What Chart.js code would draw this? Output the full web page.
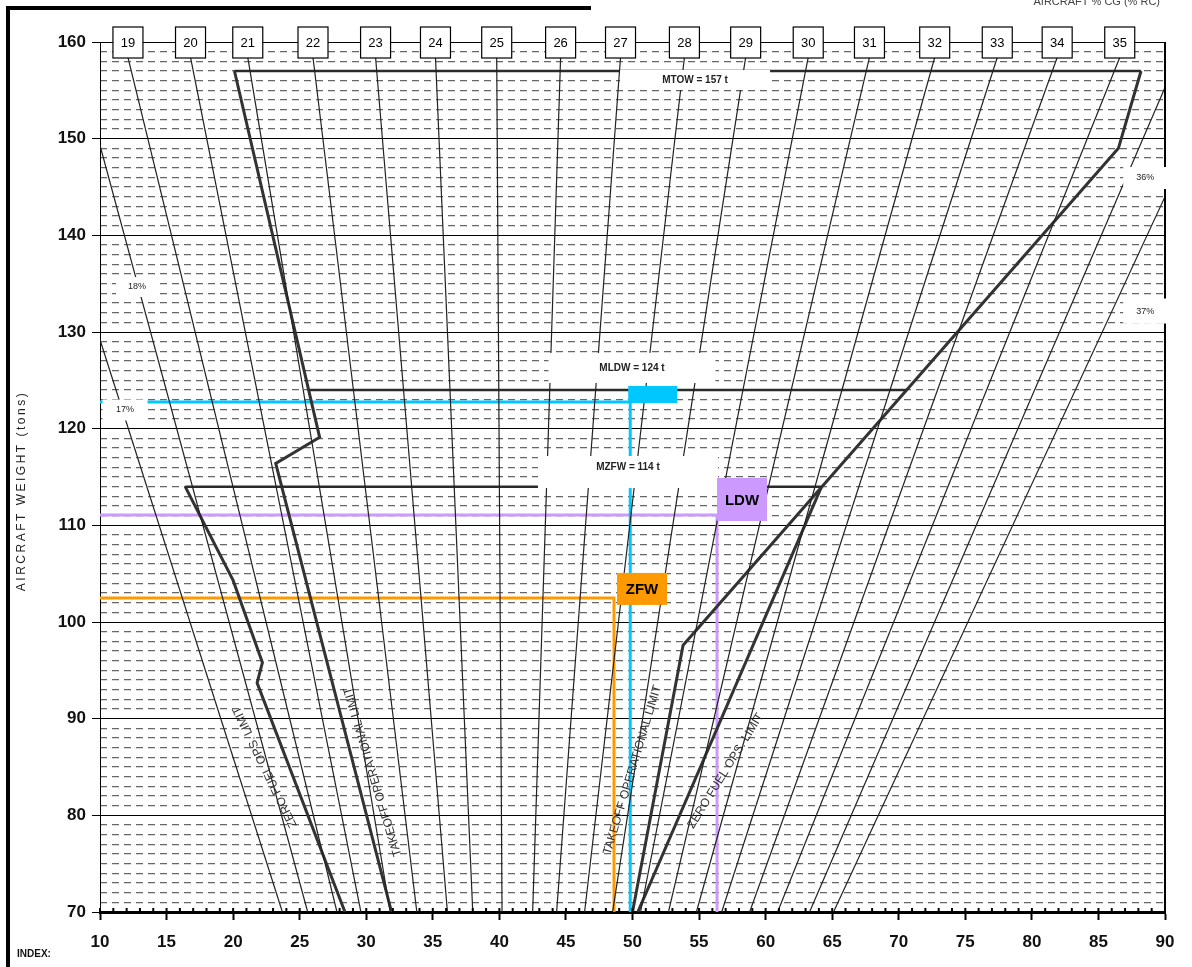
<!DOCTYPE html>
<html>
<head>
<meta charset="utf-8">
<title>Weight and balance envelope</title>
<script src="https://cdn.jsdelivr.net/npm/chart.js@4.4.0/dist/chart.umd.min.js"></script>
<style>
  html, body { margin: 0; padding: 0; background: #fff; }
  #wrap { width: 1192px; height: 967px; position: relative; }
</style>
</head>
<body>
<div id="wrap"><canvas id="cgChart"></canvas></div>
<script>
// axis ranges and tick labels
const indexTicks = [10, 15, 20, 25, 30, 35, 40, 45, 50, 55, 60, 65, 70, 75, 80, 85, 90];
const weightTicks = [70, 80, 90, 100, 110, 120, 130, 140, 150, 160];

// %CG lines: start point (index, weight) and index where they reach 70 t
const cgPercent   = [17, 18, 19, 20, 21, 22, 23, 24, 25, 26, 27, 28, 29, 30, 31, 32, 33, 34, 35, 36, 37];
const cgTopIndex  = [10, 10, 12.1, 16.8, 21.1, 26.0, 30.7, 35.2, 39.8, 44.6, 49.1, 53.9, 58.5, 63.2, 67.8, 72.7, 77.4, 81.9, 86.6, 90, 90];
const cgTopWeight = [129.2, 149.3, 158.4, 158.4, 158.4, 158.4, 158.4, 158.4, 158.4, 158.4, 158.4, 158.4, 158.4, 158.4, 158.4, 158.4, 158.4, 158.4, 158.4, 155.3, 144.0];
const cgBaseIndex = [23.7, 25.6, 27.8, 29.6, 31.8, 33.8, 36.1, 38.0, 40.2, 42.5, 44.3, 46.4, 48.5, 50.6, 52.7, 54.8, 56.7, 58.8, 60.9, 63.3, 65.1];

// envelope limits as [index, weight]
const mtowLimit = [[20.1, 157], [88.2, 157]];
const mldwLimit = [[25.7, 124], [70.6, 124]];
const mzfwLimit = [[16.4, 114], [64.2, 114]];
const takeoffFwd = [[20.1, 157], [26.5, 119.1], [23.2, 116.4], [31.9, 70]];
const takeoffAft = [[88.2, 157], [86.5, 149], [53.8, 97.6], [50.0, 70]];
const zeroFuelFwd = [[16.4, 114], [20.0, 104.3], [22.2, 95.8], [21.8, 93.7], [28.4, 70]];
const zeroFuelAft = [[64.2, 114], [50.4, 70]];

// loaded conditions: cyan check, ZFW, LDW
const pointNames = ["check", "ZFW", "LDW"];
const pointIndex = [49.83, 48.61, 56.35];
const pointWeight = [122.76, 102.49, 111.07];

const FONT = '"Liberation Sans", Arial, sans-serif';
const pointStyle = {
    check: { color: "#00c8ff", box: [-2, 47, -16, 1], text: "" },
    ZFW: { color: "#ff9900", box: [3, 53, -25, 7], text: "ZFW" },
    LDW: { color: "#cc99ff", box: [0, 50, -37, 6], text: "LDW" }
};

// labels with a white backing box (anchor in index/weight, box size in px)
const boxedLabels = [
    { text: "MTOW = 157 t", x: 54.7, y: 156.07, w: 150, h: 20, dy: 0, font: "bold 10px " + FONT },
    { text: "MLDW = 124 t", x: 49.96, y: 126.28, w: 167, h: 30, dy: 0, font: "bold 10px " + FONT },
    { text: "MZFW = 114 t", x: 49.66, y: 116.03, w: 180, h: 32, dy: 5, font: "bold 10px " + FONT },
    { text: "17%", x: 11.88, y: 121.93, w: 45, h: 21, dy: 0, font: "9px " + FONT },
    { text: "18%", x: 12.78, y: 134.66, w: 42, h: 20, dy: 0, font: "9px " + FONT },
    { text: "36%", x: 88.51, y: 145.93, w: 44, h: 22, dy: 0, font: "9px " + FONT },
    { text: "37%", x: 88.51, y: 132.17, w: 44, h: 25, dy: 0, font: "9px " + FONT }
];

// limit names written along the lines
const lineLabels = [
    { text: "ZERO FUEL OPS. LIMIT", x: 22.4, y: 85.0, angle: -115.8 },
    { text: "TAKEOFF OPERATIONAL LIMIT", x: 30.5, y: 84.5, angle: -106.7 },
    { text: "TAKEOFF OPERATIONAL LIMIT", x: 50.0, y: 84.7, angle: -73.3 },
    { text: "ZERO FUEL OPS. LIMIT", x: 57.0, y: 84.6, angle: -58.1 }
];

function pts(list) {
    return list.map(p => ({ x: p[0], y: p[1] }));
}

let datasets = [];

cgPercent.forEach((pc, i) => {
    datasets.push({
        label: pc + "%",
        data: [{ x: cgTopIndex[i], y: cgTopWeight[i] }, { x: cgBaseIndex[i], y: 70 }],
        borderColor: "#222",
        borderWidth: 1.2
    });
});

[mtowLimit, mldwLimit, mzfwLimit].forEach(l => {
    datasets.push({ data: pts(l), borderColor: "#2b2b2b", borderWidth: 2.5 });
});
[takeoffFwd, takeoffAft, zeroFuelFwd, zeroFuelAft].forEach(l => {
    datasets.push({ data: pts(l), borderColor: "#333", borderWidth: 3 });
});

pointNames.forEach((name, i) => {
    datasets.push({
        label: name,
        data: [
            { x: indexTicks[0], y: pointWeight[i] },
            { x: pointIndex[i], y: pointWeight[i] },
            { x: pointIndex[i], y: weightTicks[0] }
        ],
        borderColor: pointStyle[name].color,
        borderWidth: 3
    });
});

datasets.forEach(d => {
    d.showLine = true;
    d.pointRadius = 0;
    d.fill = false;
    d.xAxisID = "x";
    d.yAxisID = "y";
});

const decor = {
    id: "decor",
    afterDatasetsDraw(chart) {
        const ctx = chart.ctx;
        const a = chart.chartArea;
        const xs = chart.scales.x, ys = chart.scales.y;
        const px = v => xs.getPixelForValue(v);
        const py = v => ys.getPixelForValue(v);
        ctx.save();

        // right frame
        ctx.fillStyle = "#000";
        ctx.fillRect(a.right - 1, a.top, 2, a.bottom - a.top);

        // minor index ticks
        for (let v = xs.min; v <= xs.max; v++) {
            ctx.fillRect(px(v) - 1, a.bottom - 4, 2, 4);
        }

        // white label boxes
        boxedLabels.forEach(l => {
            const cx = px(l.x), cy = py(l.y);
            ctx.fillStyle = "#fff";
            ctx.fillRect(cx - l.w / 2, cy + l.dy - l.h / 2, l.w, l.h);
            ctx.fillStyle = "#222";
            ctx.font = l.font;
            ctx.textAlign = "center";
            ctx.textBaseline = "middle";
            ctx.fillText(l.text, cx, cy);
        });

        // limit names
        lineLabels.forEach(l => {
            ctx.save();
            ctx.translate(px(l.x), py(l.y));
            ctx.rotate(l.angle * Math.PI / 180);
            ctx.fillStyle = "#333";
            ctx.font = '12px "Liberation Sans Narrow", "Liberation Sans", Arial, sans-serif';
            ctx.textAlign = "center";
            ctx.textBaseline = "middle";
            ctx.fillText(l.text, 0, 0);
            ctx.restore();
        });

        // coloured condition boxes
        pointNames.forEach((name, i) => {
            const s = pointStyle[name];
            const x0 = px(pointIndex[i]), y0 = py(pointWeight[i]);
            ctx.fillStyle = s.color;
            ctx.fillRect(x0 + s.box[0], y0 + s.box[2], s.box[1] - s.box[0], s.box[3] - s.box[2]);
            if (s.text) {
                ctx.fillStyle = "#000";
                ctx.font = "bold 15px " + FONT;
                ctx.textAlign = "center";
                ctx.textBaseline = "middle";
                ctx.fillText(s.text, x0 + (s.box[0] + s.box[1]) / 2, y0 + (s.box[2] + s.box[3]) / 2 + 1);
            }
        });

        // %CG boxes along the top
        cgPercent.forEach((pc, i) => {
            if (cgTopWeight[i] < 158) return;
            const cx = px(cgTopIndex[i]), cy = py(weightTicks[weightTicks.length - 1]);
            ctx.fillStyle = "#fff";
            ctx.fillRect(cx - 15, cy - 15, 30, 31);
            ctx.strokeStyle = "#000";
            ctx.lineWidth = 1.2;
            ctx.strokeRect(cx - 15, cy - 15, 30, 31);
            ctx.fillStyle = "#000";
            ctx.font = "13px " + FONT;
            ctx.textAlign = "center";
            ctx.textBaseline = "middle";
            ctx.fillText(String(pc), cx, cy + 1);
        });

        // weight axis title, spaced out like the original
        ctx.save();
        ctx.translate(22, (a.top + a.bottom) / 2 + 14);
        ctx.rotate(-Math.PI / 2);
        ctx.fillStyle = "#222";
        ctx.font = "12px " + FONT;
        ctx.letterSpacing = "2.5px";
        ctx.textAlign = "center";
        ctx.textBaseline = "middle";
        ctx.fillText("AIRCRAFT WEIGHT (tons)", 0, 0);
        ctx.restore();

        // page frame and captions
        ctx.fillStyle = "#000";
        ctx.fillRect(6, 6, 4, 961);
        ctx.fillRect(6, 6, 585, 4);
        ctx.fillStyle = "#444";
        ctx.font = "11px " + FONT;
        ctx.textAlign = "right";
        ctx.textBaseline = "alphabetic";
        ctx.fillText("AIRCRAFT % CG (% RC)", 1160, 5);
        ctx.fillStyle = "#111";
        ctx.font = "bold 10px " + FONT;
        ctx.textAlign = "left";
        ctx.fillText("INDEX:", 17, 957);

        ctx.restore();
    }
};

const minorWeights = [];
for (let w = weightTicks[0]; w <= weightTicks[weightTicks.length - 1]; w++) minorWeights.push(w);

new Chart(document.getElementById("cgChart"), {
    type: "scatter",
    data: { datasets: datasets },
    options: {
        responsive: true,
        maintainAspectRatio: false,
        animation: false,
        layout: { padding: { top: 42, right: 27, bottom: 0, left: 0 } },
        plugins: { legend: { display: false }, tooltip: { enabled: false } },
        elements: { line: { tension: 0 } },
        scales: {
            x: {
                type: "linear",
                position: "bottom",
                min: 10,
                max: 90,
                afterBuildTicks: s => { s.ticks = indexTicks.map(v => ({ value: v })); },
                afterFit: s => { s.height = 55; },
                ticks: { color: "#111", padding: 12, font: { family: FONT, size: 17, weight: "bold" } },
                grid: { drawOnChartArea: false, tickLength: 8, tickWidth: 2, tickColor: "#000" },
                border: { color: "#000", width: 3 }
            },
            y: {
                type: "linear",
                position: "left",
                weight: 1,
                min: 70,
                max: 160,
                afterBuildTicks: s => { s.ticks = weightTicks.map(v => ({ value: v })); },
                afterFit: s => { s.width = 100; },
                ticks: { color: "#111", padding: 6, font: { family: FONT, size: 17, weight: "bold" } },
                grid: { color: "#000", lineWidth: 1, tickLength: 8, tickColor: "#000" },
                border: { color: "#000", width: 1 }
            },
            yMinor: {
                type: "linear",
                position: "left",
                weight: 0,
                min: 70,
                max: 160,
                afterBuildTicks: s => { s.ticks = minorWeights.map(v => ({ value: v })); },
                afterFit: s => { s.width = 0; },
                ticks: { display: false },
                grid: {
                    color: c => (c.tick && c.tick.value % 10 === 0) ? "rgba(0,0,0,0)" : "#666",
                    lineWidth: 1.3,
                    drawTicks: false
                },
                border: { display: false, dash: [7, 5] }
            }
        }
    },
    plugins: [decor]
});
</script>
</body>
</html>
